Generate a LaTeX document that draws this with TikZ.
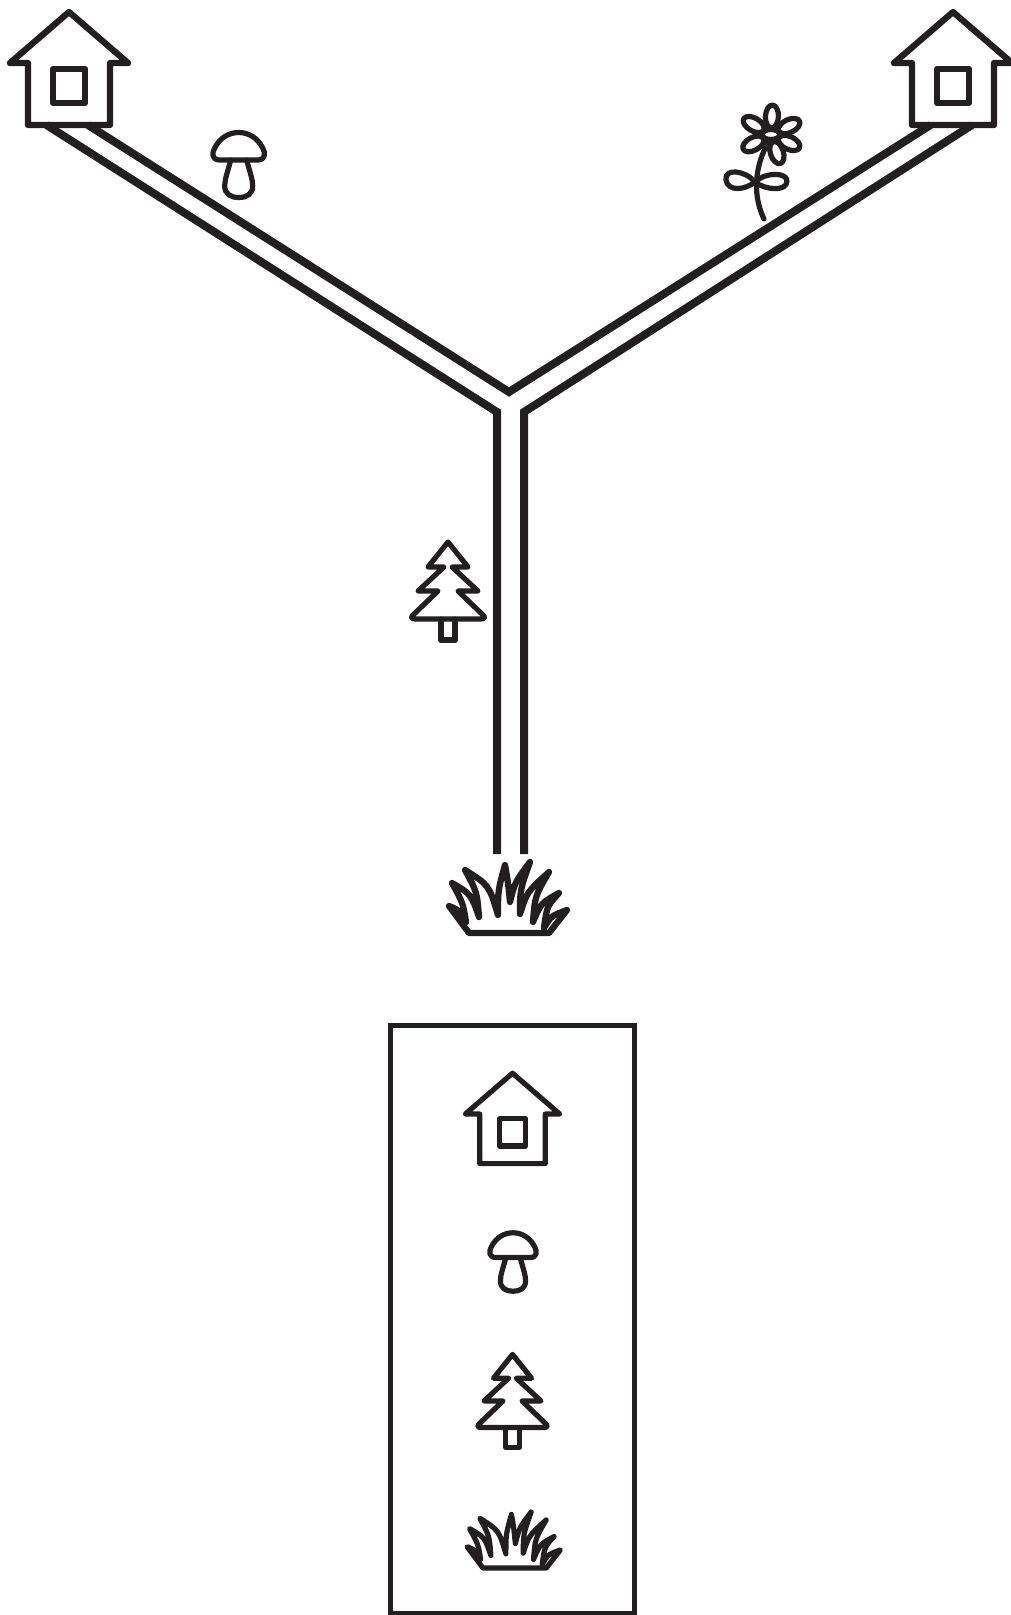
\documentclass[tikz,border=0pt]{standalone}
\usepackage{xcolor}
\definecolor{inkblack}{HTML}{231F20}

\begin{document}
\begin{tikzpicture}[
  x=1pt, y=-1pt,
  icon/.style={draw=inkblack, line width=6.3pt, line join=round, line cap=round},
  road/.style={draw=inkblack, line width=8pt, line join=miter},
  thinicon/.style={icon, line width=5.2pt},
  pics/house/.style={code={
    \draw[pic actions] (-41,-5) -- (-59,-5) -- (0,-56) -- (59,-5) -- (41,-5) -- (41,57) -- (-41,57) -- cycle;
    \draw[pic actions] (-16,1) rectangle (16,35);
    \coordinate (-a) at (-22.5,57);
    \coordinate (-b) at (19,57);
  }},
  pics/mushroom/.style={code={
    \draw[pic actions] (-19,-5) .. controls (-27,-5) and (-27,-12) .. (-24,-17)
      .. controls (-19,-27) and (-10,-32.5) .. (0,-32.5)
      .. controls (10,-32.5) and (19,-27) .. (24,-17)
      .. controls (27,-12) and (27,-5) .. (19,-5) -- cycle;
    \draw[pic actions] (-8,-5) .. controls (-11,7) and (-14,14) .. (-14,21)
      .. controls (-14,29) and (-8,32.5) .. (0,32.5)
      .. controls (8,32.5) and (14,29) .. (14,21)
      .. controls (14,14) and (11,7) .. (8,-5);
  }},
  pics/tree/.style={code={
    \draw[pic actions] (0,-48) -- (20,-23) -- (4,-23) -- (30,1) -- (10,1) -- (35,25)
      .. controls (38,28) and (36,29) .. (32,29) -- (-32,29)
      .. controls (-36,29) and (-38,28) .. (-35,25)
      -- (-10,1) -- (-30,1) -- (-4,-23) -- (-20,-23) -- cycle;
    \draw[pic actions] (-7,29) -- (-7,50) -- (7,50) -- (7,29);
  }},
  pics/grass/.style={code={
    \draw[pic actions] (-38,33) -- (-58,6) .. controls (-48,10) .. (-41,22)
      .. controls (-44,3) .. (-55,-17) .. controls (-36,-6) .. (-28,17)
      .. controls (-30,-8) .. (-42,-30) .. controls (-18,-15) .. (-9,15)
      .. controls (-9,-10) .. (-2,-35) .. controls (1,-18) .. (3,2)
      .. controls (8,-18) .. (23,-38) .. controls (13,-10) .. (13,14)
      .. controls (20,-8) .. (42,-28) .. controls (28,-4) .. (26,22)
      .. controls (34,3) .. (52,-7) .. controls (40,6) .. (37,28)
      .. controls (44,16) .. (60,10) -- (42,33) -- cycle;
  }}
]
  \useasboundingbox (0,0) rectangle (1011,1615);

  % houses and roads
  \pic[icon] (hl) at (69,68) {house};
  \pic[icon] (hr) at (953,68) {house};
  \coordinate (jup) at (509,392);
  \coordinate (jl) at (497,412);
  \coordinate (jr) at (524,412);
  \coordinate (el) at (497,854);
  \coordinate (er) at (524,854);
  \draw[road] (hl-a) -- (jl) -- (el);
  \draw[road] (hl-b) -- (jup) -- (hr-a);
  \draw[road] (hr-b) -- (jr) -- (er);

  % landmarks on the map
  \pic[thinicon] (mu) at (238.7,165) {mushroom};
  \pic[thinicon] (tr) at (448,590) {tree};
  \pic[icon] (gr) at (507,900) {grass};

  % flower
  \coordinate (fc) at (771,134.5);
  \foreach \ang/\dist in {87/18,25/20,-25/20,-72/19,208/20,150/20}
    \draw[thinicon, rotate around={\ang:(fc)}] ([xshift=\dist pt]fc) ellipse [x radius=11.5, y radius=6.5];
  \draw[thinicon, fill=white] (fc) ellipse [x radius=9, y radius=5];
  \draw[thinicon] (768,143) .. controls (758,160) and (750,190) .. (764,219);
  \draw[thinicon] (755,182) .. controls (745,170) and (724,168) .. (726,180)
    .. controls (728,192) and (745,190) .. (755,182)
    .. controls (765,172) and (787,172) .. (787,181)
    .. controls (787,192) and (765,190) .. (755,182);

  % legend
  \node[draw=inkblack, line width=5pt, outer sep=0pt, minimum width=243.5pt, minimum height=588pt, anchor=north west, inner sep=0pt] (legend) at (390.7,1025) {};
  \pic[thinicon, scale=.8] (lh) at (512.5,1118) {house};
  \pic[thinicon, scale=.9] (lm) at (513,1262) {mushroom};
  \pic[thinicon, scale=.95] (lt) at (512.5,1400) {tree};
  \pic[thinicon, scale=.79] (lg) at (513,1542) {grass};
\end{tikzpicture}
\end{document}
